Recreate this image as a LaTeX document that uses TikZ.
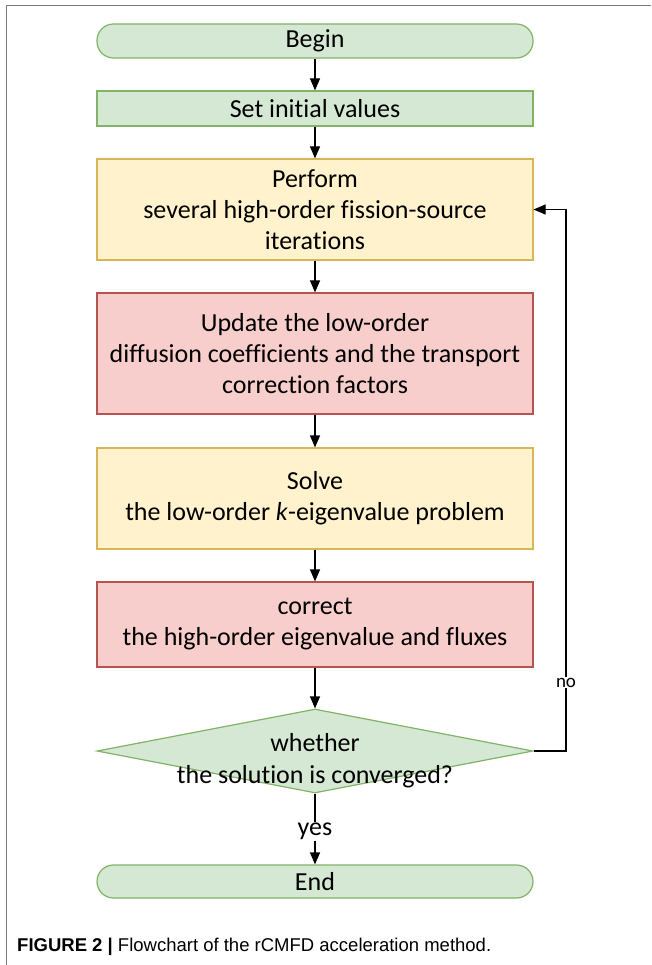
\documentclass[tikz,border=0pt]{standalone}
\usepackage{fontspec}
\setmainfont[Ligatures=CommonOff]{Carlito}
\newfontfamily\capfont{Liberation Sans}
\usetikzlibrary{shapes.geometric,arrows.meta}
\definecolor{gfill}{HTML}{D5E8D4}
\definecolor{gline}{HTML}{82B366}
\definecolor{yfill}{HTML}{FFF2CC}
\definecolor{yline}{HTML}{D6B656}
\definecolor{rfill}{HTML}{F8CECC}
\definecolor{rline}{HTML}{B85450}
\definecolor{framegray}{HTML}{7A7A7A}
\tikzset{
  box/.style={rectangle, minimum width=436pt, inner sep=0pt, align=center, line width=1.2pt,
    font=\fontsize{26}{31}\selectfont},
  gbox/.style={box, fill=gfill, draw=gline},
  ybox/.style={box, fill=yfill, draw=yline},
  rbox/.style={box, fill=rfill, draw=rline},
  term/.style={gbox, rounded corners=16.5pt},
  flow/.style={line width=1.2pt, -{Triangle[width=10pt,length=12pt]}},
  lbl/.style={fill=white, inner sep=1pt},
}
\begin{document}
\begin{tikzpicture}[x=1pt,y=-1pt]
\useasboundingbox (0,0) rectangle (651,965);
\fill[white] (0,0) rectangle (651,965);
\draw[framegray, line width=1pt] (651,6) -- (6,6) -- (6,965);
\node[term, minimum height=34pt] (begin) at (315,41) {Begin};
\node[gbox, minimum height=35pt] (set) at (315,108.5) {Set initial values};
\node[ybox, minimum height=101pt] (perf) at (315,209.5) {Perform\\several high-order fission-source\\iterations};
\node[rbox, minimum height=121pt] (upd) at (315,353.5) {Update the low-order\\diffusion coefficients and the transport\\correction factors};
\node[ybox, minimum height=101pt] (solve) at (315,498.5) {Solve\\the low-order \textit{k}-eigenvalue problem};
\node[rbox, minimum height=85pt] (corr) at (315,624.5) {correct\\the high-order eigenvalue and fluxes};
\node[diamond, aspect=5.19, fill=gfill, draw=gline, line width=1.2pt, inner sep=0pt,
  minimum width=436pt, minimum height=84pt] (dec) at (315,751) {};
\node[align=center, font=\fontsize{26}{32}\selectfont] (dectext) at (315,761) {whether\\the solution is converged?};
\node[term, minimum height=33pt] (end) at (315,881.5) {End};
\coordinate (fb1) at (566,751);
\coordinate (fb2) at (566,209.5);
\draw[flow] (begin) -- (set);
\draw[flow] (set) -- (perf);
\draw[flow] (perf) -- (upd);
\draw[flow] (upd) -- (solve);
\draw[flow] (solve) -- (corr);
\draw[flow] (corr) -- (dec);
\draw[flow] (dec) -- node[lbl, font=\fontsize{26}{28}\selectfont, pos=0.53] {yes} (end);
\draw[flow] (dec.east) -- (fb1) -- node[lbl, font=\fontsize{19}{21}\selectfont, pos=0.126] {no} (fb2) -- (perf.east);
\node[anchor=west, font=\capfont\fontsize{18.5}{21}\selectfont, inner sep=0pt] (cap) at (17,947)
  {\textbf{FIGURE 2 |} Flowchart of the rCMFD acceleration method.};
\end{tikzpicture}
\end{document}
